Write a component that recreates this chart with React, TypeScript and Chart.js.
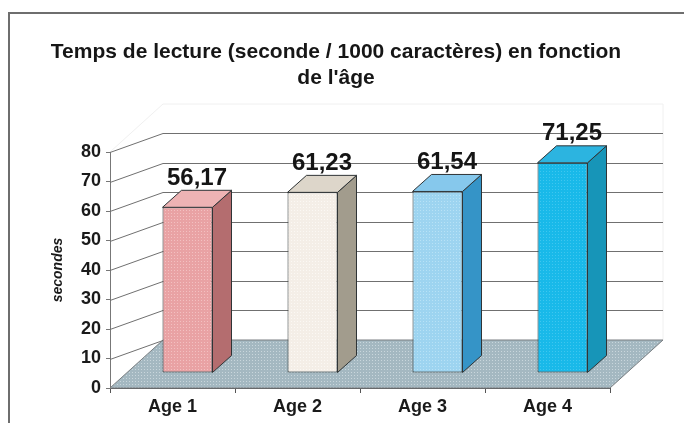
import { useEffect, useRef } from 'react';
import { Chart, registerables } from 'chart.js';

Chart.register(...registerables);

// ---- data ----
const categories = ['Age 1', 'Age 2', 'Age 3', 'Age 4'];
const values = [56.17, 61.23, 61.54, 71.25];
const yMin = 0;
const yMax = 80;
const yStep = 10;
const titleLines = ['Temps de lecture (seconde / 1000 caractères) en fonction', "de l'âge"];
const yAxisTitle = 'secondes';

// ---- styles ----
const frontColors = ['#e9a2a4', '#f4eee7', '#9dd4f0', '#19b9e9'];
const frontDots = ['#f3c0c1', '#fbf8f4', '#b8e2f6', '#3fc6ef'];
const sideColors = ['#b46d6f', '#a29c8d', '#3594c7', '#1795b8'];
const topColors = ['#eeb3b4', '#ddd6ca', '#86c8ec', '#2cb4e0'];
const FONT = "'Liberation Sans', Arial, Helvetica, sans-serif";
const BAR_SHIFT = { x: 15, y: -15 };
const DEPTH = { x: 19, y: -17 };
const WALL = { x: 53, y: -48 };
const GRID_DY = -19;

const fmt = (v: number) => v.toFixed(2).replace('.', ',');

function makePattern(base: string, dot: string, step = 3): CanvasPattern | string {
  const c = document.createElement('canvas');
  c.width = step;
  c.height = step;
  const g = c.getContext('2d');
  if (!g) return base;
  g.fillStyle = base;
  g.fillRect(0, 0, step, step);
  g.fillStyle = dot;
  g.fillRect(0, 0, 1, 1);
  const p = g.createPattern(c, 'repeat');
  return p || base;
}

const scene3d = {
  id: 'scene3d',
  beforeDraw(chart: any) {
    const { ctx, width, height } = chart;
    ctx.save();
    ctx.fillStyle = '#ffffff';
    ctx.fillRect(0, 0, width, height);
    ctx.strokeStyle = '#6e6e6e';
    ctx.lineWidth = 2;
    ctx.beginPath();
    ctx.moveTo(9, height);
    ctx.lineTo(9, 13);
    ctx.lineTo(width, 13);
    ctx.stroke();
    ctx.restore();
  },
  beforeDatasetsDraw(chart: any) {
    const { ctx, chartArea: a, scales } = chart;
    const y = scales.y;
    ctx.save();
    // faint wall outline
    ctx.strokeStyle = '#f0f0f0';
    ctx.lineWidth = 1;
    ctx.beginPath();
    ctx.moveTo(a.left, a.top);
    ctx.lineTo(a.left + WALL.x, a.top + WALL.y);
    ctx.lineTo(a.right + WALL.x, a.top + WALL.y);
    ctx.lineTo(a.right + WALL.x, a.bottom + WALL.y);
    ctx.stroke();
    // gridlines (side wall diagonals + back wall horizontals)
    ctx.strokeStyle = '#707070';
    ctx.lineWidth = 1;
    y.ticks.forEach((t: any) => {
      if (t.value <= yMin) return;
      const py = Math.round(y.getPixelForValue(t.value)) + 0.5;
      ctx.beginPath();
      ctx.moveTo(a.left, py);
      ctx.lineTo(a.left + WALL.x, py + GRID_DY);
      ctx.lineTo(a.right + WALL.x, py + GRID_DY);
      ctx.stroke();
    });
    // floor
    ctx.beginPath();
    ctx.moveTo(a.left, a.bottom);
    ctx.lineTo(a.right, a.bottom);
    ctx.lineTo(a.right + WALL.x, a.bottom + WALL.y);
    ctx.lineTo(a.left + WALL.x, a.bottom + WALL.y);
    ctx.closePath();
    ctx.fillStyle = makePattern('#a4b8c1', '#c9d6dc');
    ctx.fill();
    ctx.strokeStyle = '#7a7f82';
    ctx.stroke();
    ctx.restore();
    // shift the bar plane
    ctx.save();
    ctx.translate(BAR_SHIFT.x, BAR_SHIFT.y);
  },
  afterDatasetsDraw(chart: any) {
    const { ctx } = chart;
    const meta = chart.getDatasetMeta(0);
    ctx.lineWidth = 1;
    ctx.strokeStyle = '#2f3436';
    meta.data.forEach((bar: any, i: number) => {
      const { x: cx, y: top, base, width } = bar.getProps(['x', 'y', 'base', 'width'], true);
      const l = cx - width / 2;
      const r = cx + width / 2;
      // side
      ctx.beginPath();
      ctx.moveTo(r, top);
      ctx.lineTo(r + DEPTH.x, top + DEPTH.y);
      ctx.lineTo(r + DEPTH.x, base + DEPTH.y);
      ctx.lineTo(r, base);
      ctx.closePath();
      ctx.fillStyle = sideColors[i];
      ctx.fill();
      ctx.stroke();
      // top
      ctx.beginPath();
      ctx.moveTo(l, top);
      ctx.lineTo(l + DEPTH.x, top + DEPTH.y);
      ctx.lineTo(r + DEPTH.x, top + DEPTH.y);
      ctx.lineTo(r, top);
      ctx.closePath();
      ctx.fillStyle = topColors[i];
      ctx.fill();
      ctx.stroke();
    });
    ctx.restore();
    // value labels
    ctx.save();
    ctx.fillStyle = '#151515';
    ctx.font = `bold 24px ${FONT}`;
    ctx.textAlign = 'center';
    ctx.textBaseline = 'middle';
    meta.data.forEach((bar: any, i: number) => {
      const { x: cx, y: top } = bar.getProps(['x', 'y'], true);
      ctx.fillText(fmt(values[i]), cx + BAR_SHIFT.x + DEPTH.x / 2, top + BAR_SHIFT.y + DEPTH.y - 12);
    });
    ctx.restore();
  },
};

export default function App() {
  const ref = useRef<HTMLCanvasElement>(null);
  useEffect(() => {
    document.body.style.margin = '0';
    const chart = new Chart(ref.current as HTMLCanvasElement, {
      type: 'bar',
      data: {
        labels: categories,
        datasets: [
          {
            data: values,
            backgroundColor: frontColors.map((c, i) => makePattern(c, frontDots[i])),
            borderColor: '#2f3436',
            borderWidth: 1,
            borderSkipped: false,
            categoryPercentage: 1,
            barPercentage: 0.4,
          },
        ],
      },
      options: {
        responsive: false,
        animation: false,
        devicePixelRatio: 1,
        layout: { padding: { left: 40, right: 52, top: 0, bottom: 0 } },
        plugins: {
          legend: { display: false },
          tooltip: { enabled: false },
          title: {
            display: true,
            text: titleLines,
            color: '#161616',
            font: { family: FONT, size: 21, weight: 'bold', lineHeight: 1.25 },
            padding: { top: 39, bottom: 60.5 },
          },
        },
        scales: {
          x: {
            grid: { drawOnChartArea: false, drawTicks: true, tickLength: 5, color: '#555' },
            border: { display: true, color: '#555', width: 1 },
            ticks: { font: { family: FONT, size: 18, weight: 'bold' }, color: '#1a1a1a', padding: 3 },
            afterFit: (s: any) => { s.height = 35; },
          },
          y: {
            min: yMin,
            max: yMax,
            ticks: { stepSize: yStep, font: { family: FONT, size: 18, weight: 'bold' }, color: '#1a1a1a', padding: 5 },
            grid: { drawOnChartArea: false, drawTicks: true, tickLength: 4, color: '#777' },
            border: { display: true, color: '#777', width: 1 },
            title: {
              display: true,
              text: yAxisTitle,
              font: { family: FONT, size: 14, weight: 'bold', style: 'italic' },
              color: '#1a1a1a',
              padding: { top: 10, bottom: 0 },
            },
            afterFit: (s: any) => { s.width = 70; },
          },
          yR: {
            position: 'right',
            display: true,
            grid: { display: false },
            border: { display: false },
            ticks: { display: false },
            afterFit: (s: any) => { s.width = 22; },
          },
        },
      },
      plugins: [scene3d],
    } as any);
    return () => chart.destroy();
  }, []);
  return <canvas ref={ref} width={684} height={423} style={{ display: 'block' }} />;
}
